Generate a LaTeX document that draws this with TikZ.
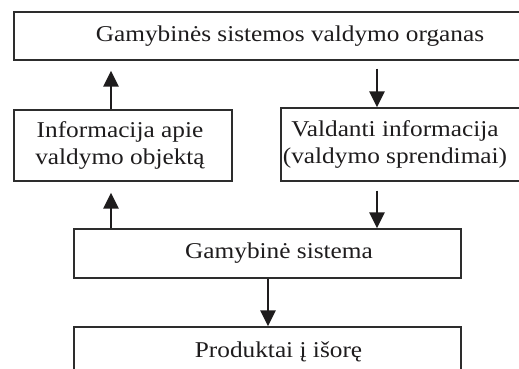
\documentclass[tikz,border=0pt]{standalone}
\usepackage{fontspec}
\setmainfont[FakeStretch=1.12]{Liberation Serif}
\usetikzlibrary{arrows.meta}
\definecolor{framegray}{RGB}{45,45,45}
\definecolor{textblack}{RGB}{30,28,29}
\tikzset{
  frame-box/.style={
    rectangle,
    draw=framegray,
    line width=0.65pt,
    inner sep=0pt
  },
  box-text/.style={
    text=textblack,
    align=center,
    font=\fontsize{11.3}{13.5}\selectfont
  },
  flow-arrow/.style={
    draw=textblack,
    line width=1.35pt,
    -{Triangle[length=8pt,width=7.5pt]}
  }
}

\begin{document}
\begin{tikzpicture}[x=0.5pt,y=-0.5pt]
  \useasboundingbox (0,0) rectangle (519,369);
  \clip (0,0) rectangle (519,369);
  % boxes
  \node[frame-box, minimum width=276pt, minimum height=24pt,
    label={[box-text]center:Gamybinės sistemos valdymo organas}] (organ) at (290,36) {};
  \node[frame-box, minimum width=109pt, minimum height=35.5pt,
    label={[box-text, xshift=-1.5pt]center:{Informacija apie\\valdymo objektą}}] (info) at (123,145.5) {};
  \node[frame-box, minimum width=129.5pt, minimum height=36.5pt,
    label={[box-text, xshift=-7.75pt]center:{Valdanti informacija\\(valdymo sprendimai)}}] (control) at (410.5,144.5) {};
  \node[frame-box, minimum width=193.5pt, minimum height=24.5pt,
    label={[box-text, xshift=5.75pt]center:Gamybinė sistema}] (system) at (267.5,253.5) {};
  \node[frame-box, minimum width=193.5pt, minimum height=24.5pt,
    label={[box-text, xshift=5.5pt]center:Produktai į išorę}] (output) at (267.5,351.5) {};
  % arrow columns
  \coordinate (up-x) at (111,0);
  \coordinate (down-x) at (377,0);
  \coordinate (out-x) at (268,0);
  % arrows
  \draw[flow-arrow, shorten >=5.5pt] (system.north -| up-x) -- (info.south -| up-x);
  \draw[flow-arrow, shorten >=5pt] (info.north -| up-x) -- (organ.south -| up-x);
  \draw[flow-arrow, shorten <=4pt] (organ.south -| down-x) -- (control.north -| down-x);
  \draw[flow-arrow, shorten <=4.5pt] (control.south -| down-x) -- (system.north -| down-x);
  \draw[flow-arrow] (system.south -| out-x) -- (output.north -| out-x);
\end{tikzpicture}
\end{document}
